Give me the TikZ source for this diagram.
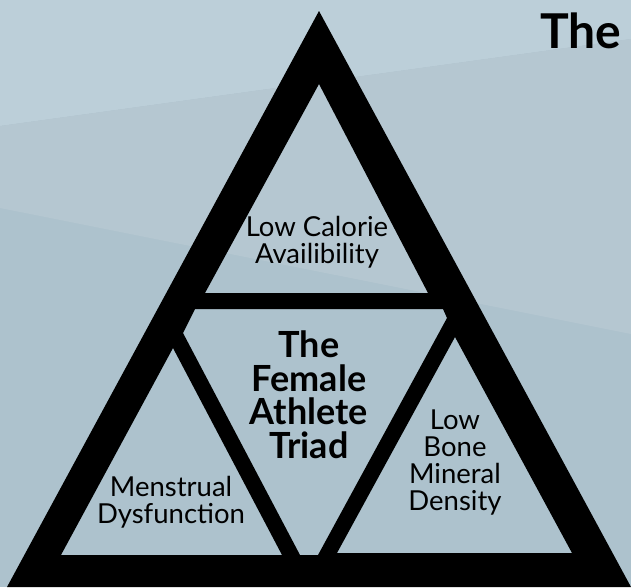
\documentclass[tikz,border=0pt]{standalone}
\usepackage{fontspec}
\setmainfont{Lato}
\definecolor{bgA}{HTML}{BCCFD9}
\definecolor{bgB}{HTML}{B5C7D1}
\definecolor{bgC}{HTML}{ADC2CD}
\tikzset{
  lbl/.style={align=center, font=\fontsize{27.5}{27}\selectfont, text=black, inner sep=0pt},
  title/.style={align=center, font=\fontsize{36}{33.5}\selectfont\bfseries, text=black, inner sep=0pt},
}
\begin{document}
\begin{tikzpicture}[x=1pt,y=-1pt]
\useasboundingbox (0,0) rectangle (631,587);
\clip (0,0) rectangle (631,587);
% background bands
\fill[bgC] (0,0) rectangle (631,587);
\fill[bgA] (0,0) -- (631,0) -- (631,39) -- (0,126) -- cycle;
\fill[bgB] (0,126) -- (631,39) -- (631,334) -- (0,208) -- cycle;
% black triangle with holes
\fill[black, even odd rule]
  (319,11) -- (631,587) -- (7,587) -- cycle
  (319,84) -- (428,293) -- (205,293) -- cycle
  (195,309) -- (443,309) -- (447,318) -- (318,555) -- (300,555) -- (183,333) -- cycle
  (173,348) -- (282,555) -- (61,555) -- cycle
  (455,337) -- (572,553) -- (337,553) -- cycle;
% texts
\node[lbl] (top) at (317,242) {Low Calorie\\Availibility};
\node[title] (mid) at (309,395) {The\\Female\\Athlete\\Triad};
\node[lbl] (left) at (171,502) {Menstrual\\Dysfunction};
\node[lbl] (right) at (455,462) {Low\\Bone\\Mineral\\Density};
\node[font=\fontsize{48}{50}\selectfont\bfseries, inner sep=0pt, anchor=west] (head) at (540,31) {The};
\end{tikzpicture}
\end{document}
